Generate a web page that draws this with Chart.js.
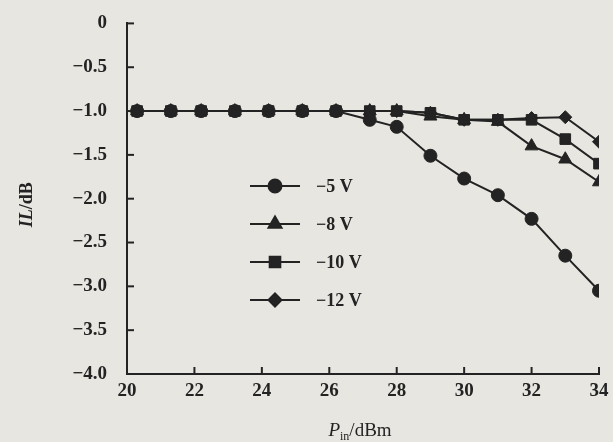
<!DOCTYPE html>
<html>
<head>
<meta charset="utf-8">
<script src="https://cdn.jsdelivr.net/npm/chart.js@4"></script>
<style>
  html,body{margin:0;padding:0;background:#e7e6e1;}
  #wrap{width:613px;height:442px;position:relative;}
</style>
</head>
<body>
<div id="wrap"><canvas id="c" width="613" height="442"></canvas></div>
<script>
// input power, dBm
const pin=[20.3,21.3,22.2,23.2,24.2,25.2,26.2,27.2,28,29,30,31,32,33,34];
// insertion loss, dB
const il5 =[-1.0,-1.0,-1.0,-1.0,-1.0,-1.0,-1.0,-1.1,-1.18,-1.51,-1.77,-1.96,-2.23,-2.65,-3.05];
const il8 =[-1.0,-1.0,-1.0,-1.0,-1.0,-1.0,-1.0,-1.0,-1.0,-1.06,-1.1,-1.12,-1.4,-1.55,-1.81];
const il10=[-1.0,-1.0,-1.0,-1.0,-1.0,-1.0,-1.0,-1.0,-1.0,-1.02,-1.1,-1.1,-1.1,-1.32,-1.6];
const il12=[-1.0,-1.0,-1.0,-1.0,-1.0,-1.0,-1.0,-1.0,-1.0,-1.02,-1.1,-1.1,-1.08,-1.07,-1.35];
const labels=["\u22125 V","\u22128 V","\u221210 V","\u221212 V"];
const xTicks=[20,22,24,26,28,30,32,34];

const ink="#232323";
const serif="'Liberation Serif','DejaVu Serif',serif";

function mk(label,data,style,r){
  return {label:label,data:pin.map((x,i)=>({x:x,y:data[i]})),borderColor:ink,backgroundColor:ink,
    borderWidth:2,pointStyle:style,pointRadius:r,pointHoverRadius:r,pointBorderWidth:1,tension:0};
}
const datasets=[
  mk(labels[0],il5,'circle',6.5),
  mk(labels[1],il8,'triangle',7.5),
  mk(labels[2],il10,'rect',7.5),
  mk(labels[3],il12,'rectRot',6.5)
];

// ticks pointing into the plot, axis titles and the inner legend
const decor={
  id:'decor',
  afterDraw(chart){
    const c=chart.ctx, a=chart.chartArea, xs=chart.scales.x, ys=chart.scales.y;
    c.save();
    c.strokeStyle=ink; c.lineWidth=2;
    xs.ticks.forEach(t=>{const p=xs.getPixelForValue(t.value); c.beginPath(); c.moveTo(p,a.bottom); c.lineTo(p,a.bottom-7); c.stroke();});
    ys.ticks.forEach(t=>{const p=ys.getPixelForValue(t.value); c.beginPath(); c.moveTo(a.left,p); c.lineTo(a.left+7,p); c.stroke();});
    c.fillStyle=ink;
    // x title: P_in/dBm
    c.textBaseline='alphabetic';
    const cx=(a.left+a.right)/2-3, by=436;
    c.font="italic 19px "+serif; const wP=c.measureText("P").width;
    c.font="12px "+serif; const wi=c.measureText("in").width;
    c.font="19px "+serif; const wr=c.measureText("/dBm").width;
    let x0=cx-(wP+wi+wr)/2;
    c.textAlign='left';
    c.font="italic 19px "+serif; c.fillText("P",x0,by);
    c.font="12px "+serif; c.fillText("in",x0+wP,by+4);
    c.font="19px "+serif; c.fillText("/dBm",x0+wP+wi,by);
    // y title: IL/dB rotated
    c.save();
    c.translate(32,(a.top+a.bottom)/2+6);
    c.rotate(-Math.PI/2);
    c.font="italic bold 18px "+serif; const wIL=c.measureText("IL").width;
    c.font="bold 18px "+serif; const wdb=c.measureText("/dB").width;
    let y0=-(wIL+wdb)/2;
    c.font="italic bold 18px "+serif; c.fillText("IL",y0,0);
    c.font="bold 18px "+serif; c.fillText("/dB",y0+wIL,0);
    c.restore();
    // legend
    chart.data.datasets.forEach((d,i)=>{
      const ly=186+i*38, lx=250;
      c.strokeStyle=ink; c.lineWidth=2;
      c.beginPath(); c.moveTo(lx,ly); c.lineTo(lx+50,ly); c.stroke();
      Chart.helpers.drawPoint(c,{pointStyle:d.pointStyle,radius:d.pointRadius,borderWidth:1},lx+25,ly);
      c.fill();
      c.font="bold 18px "+serif; c.textAlign='left'; c.textBaseline='middle';
      c.fillText(d.label,lx+66,ly+1);
    });
    c.restore();
  }
};

new Chart(document.getElementById('c'),{
  type:'line',
  data:{datasets:datasets},
  options:{
    responsive:false,animation:false,
    layout:{padding:{top:22,right:14,left:0,bottom:0}},
    plugins:{legend:{display:false},tooltip:{enabled:false}},
    scales:{
      x:{type:'linear',min:20,max:34,
        afterBuildTicks(s){s.ticks=xTicks.map(v=>({value:v}));},
        afterFit(s){s.height=68;},
        grid:{display:false},border:{display:true,color:ink,width:2},
        ticks:{color:ink,font:{family:serif,size:19,weight:'bold'},padding:-2,maxRotation:0}},
      y:{min:-4,max:0,
        afterFit(s){s.width=127;},
        grid:{display:false},border:{display:true,color:ink,width:2},
        ticks:{stepSize:0.5,color:ink,font:{family:serif,size:19,weight:'bold'},padding:12,
          callback:v=>v===0?"0":(v<0?"\u2212":"")+Math.abs(v).toFixed(1)}}
    }
  },
  plugins:[decor]
});
</script>
</body>
</html>
